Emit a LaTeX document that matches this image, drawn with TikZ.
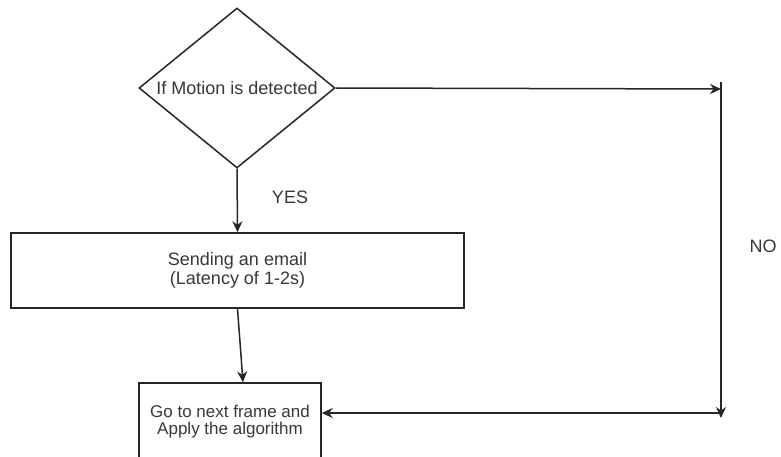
\documentclass[tikz,border=0pt]{standalone}
\usepackage{fontspec}
\setmainfont{Liberation Sans}
\usetikzlibrary{shapes.geometric,arrows.meta}
\begin{document}
\begin{tikzpicture}[x=1pt,y=-1pt,
  line width=1.5pt,
  every node/.style={font=\fontsize{18pt}{19pt}\selectfont, text=black!78},
  boxnode/.style={draw=black!85, rectangle, inner sep=0pt, align=center},
  decnode/.style={draw=black!85, diamond, shape aspect=1.225, inner sep=0pt, minimum width=196pt, minimum height=160pt},
  arr/.style={draw=black!85, -{Stealth[length=11pt,width=10pt]}},
  plain/.style={draw=black!85}]
\useasboundingbox (0,0) rectangle (781,457);
\clip (0,0) rectangle (781,457);
\fill[white] (0,0) rectangle (781,457);
\node[decnode] (dec) at (237,88) {If Motion is detected};
\node[boxnode, minimum width=453pt, minimum height=75pt] (send) at (237.5,270.5) {Sending an email\\(Latency of 1-2s)};
\node[boxnode, minimum width=182pt, minimum height=77pt, font=\fontsize{17pt}{17pt}\selectfont] (next) at (230,421.5) {Go to next frame and\\Apply the algorithm};
\coordinate (ntop) at (721,82);
\coordinate (nhit) at (721,89);
\coordinate (nbot) at (721,418);
\coordinate (nmid) at (721,413);
\draw[arr] (dec.south) -- (send.north);
\draw[arr] (send.south) -- ([xshift=13pt]next.north);
\draw[arr] (dec.east) -- (nhit);
\draw[arr] (ntop) -- (nbot);
\draw[arr] (nmid) -- (next.east |- nmid);
\node (yes) at (290,197) {YES};
\node (no) at (763,246) {NO};
\end{tikzpicture}
\end{document}
